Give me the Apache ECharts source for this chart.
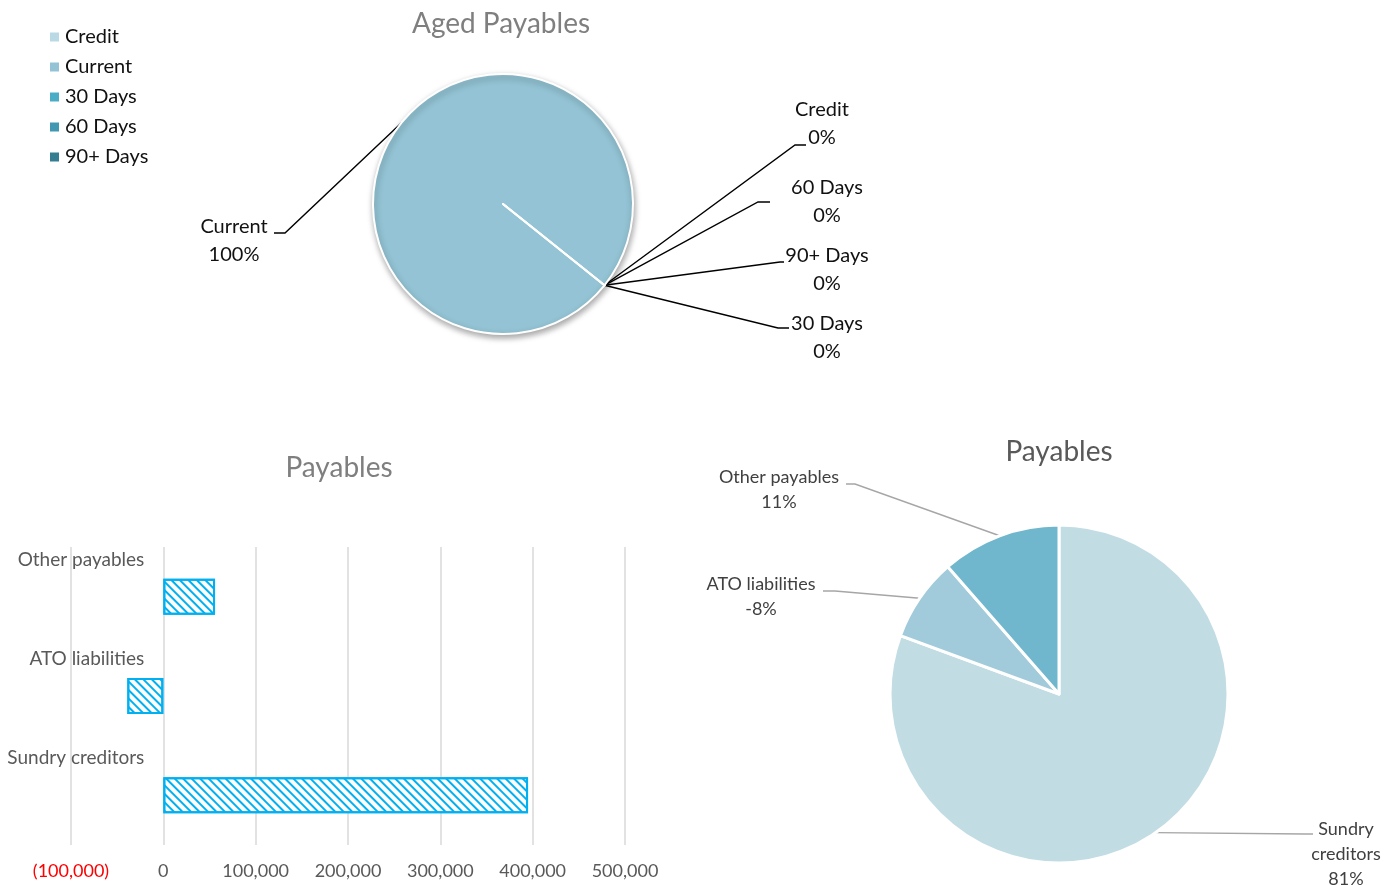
<!DOCTYPE html>
<html>
<head>
<meta charset="utf-8">
<script src="https://cdn.jsdelivr.net/npm/echarts@6/dist/echarts.min.js"></script>
<style>
html,body{margin:0;padding:0;background:#fff;}
#c{width:1400px;height:885px;}
</style>
</head>
<body>
<div id="c"></div>
<script>
// ---- data ----
var agedNames = ['Credit', 'Current', '30 Days', '60 Days', '90+ Days'];
var agedShares = [0, 100, 0, 0, 0];
var payCategories = ['Sundry creditors', 'ATO liabilities', 'Other payables'];
var payValues = [395000, -39000, 56000];
var xTicks = [-100000, 0, 100000, 200000, 300000, 400000, 500000];

// ---- styles ----
var agedColors = ['#B9D9E4', '#93C3D4', '#4BACC6', '#4198B0', '#357D91'];
var payPieColors = ['#C2DCE4', '#A1CBDA', '#70B6CC'];
var FONT = 'Lato';
var GRID_LEFT = 71;

var chart = echarts.init(document.getElementById('c'), null, {renderer: 'canvas'});

function fmtNum(v) {
  return Math.abs(v).toString().replace(/\B(?=(\d{3})+(?!\d))/g, ',');
}

var agedSum = agedShares.reduce(function (a, b) { return a + b; }, 0);
var payAbsSum = payValues.reduce(function (a, b) { return a + Math.abs(b); }, 0);

// label placements (layout, not data)
var agedLabelPos = {
  'Credit':   {x: 822, y: 124, line: [[795, 145], [806, 145]]},
  'Current':  {x: 234, y: 241, line: [[285, 233], [274, 233]]},
  '30 Days':  {x: 827, y: 338, line: [[778, 328], [789, 328]]},
  '60 Days':  {x: 827, y: 202, line: [[758, 202], [770, 202]]},
  '90+ Days': {x: 827, y: 270, line: [[780, 262], [784, 262]]}
};
var payLabelPos = {
  'Sundry creditors': {x: 1346, y: 854, line: [[1305, 834], [1313, 834]]},
  'ATO liabilities':  {x: 761, y: 597, line: [[835, 591], [823, 591]]},
  'Other payables':   {x: 779, y: 490, line: [[855, 484], [846, 484]]}
};

var titleStyle = function (c) {
  return {fontFamily: FONT, fontSize: 28, fontWeight: 'normal', color: c};
};

var option = {
  animation: false,
  textStyle: {fontFamily: FONT},
  title: [
    {text: 'Aged Payables', left: 501, top: 10, padding: 0, textAlign: 'center', textStyle: titleStyle('#7F7F7F')},
    {text: 'Payables', left: 339, top: 454, padding: 0, textAlign: 'center', textStyle: titleStyle('#7F7F7F')},
    {text: 'Payables', left: 1059, top: 438, padding: 0, textAlign: 'center', textStyle: titleStyle('#595959')}
  ],
  legend: {
    data: agedNames,
    orient: 'vertical',
    left: 43,
    top: 22,
    icon: 'rect',
    itemWidth: 11,
    itemHeight: 11,
    itemGap: 10,
    textStyle: {fontFamily: FONT, fontSize: 20, color: '#111', lineHeight: 20},
    selectedMode: false
  },
  grid: {left: GRID_LEFT, right: 775, top: 547, bottom: 40, containLabel: false, outerBoundsMode: 'none'},
  xAxis: {
    type: 'value',
    min: xTicks[0],
    max: xTicks[xTicks.length - 1],
    interval: xTicks[1] - xTicks[0],
    axisLine: {show: false},
    axisTick: {show: false},
    splitLine: {lineStyle: {color: '#D9D9D9', width: 1.5}},
    axisLabel: {
      margin: 17,
      fontFamily: FONT,
      fontSize: 18,
      color: '#595959',
      formatter: function (v) {
        return v < 0 ? '{neg|(' + fmtNum(v) + ')}' : fmtNum(v);
      },
      rich: {neg: {color: '#FF0000', fontFamily: FONT, fontSize: 18}}
    }
  },
  yAxis: {
    type: 'category',
    data: payCategories,
    offset: 0,
    axisLine: {show: false},
    axisTick: {show: false},
    axisLabel: {
      margin: 19,
      fontFamily: FONT,
      fontSize: 19,
      color: '#595959',
      verticalAlign: 'bottom',
      lineHeight: 74
    }
  },
  series: [
    {
      type: 'pie',
      name: 'Aged Payables',
      center: [503, 204],
      radius: 130,
      startAngle: 321.3,
      clockwise: true,
      avoidLabelOverlap: false,
      emphasis: {disabled: true},
      itemStyle: {borderColor: '#fff', borderWidth: 2},
      label: {
        show: true,
        position: 'outside',
        fontFamily: FONT,
        fontSize: 20,
        lineHeight: 28,
        color: '#111',
        align: 'center',
        formatter: function (p) {
          return p.name + '\n' + Math.round(p.value / agedSum * 100) + '%';
        }
      },
      labelLine: {show: true, lineStyle: {color: '#000', width: 1.4}},
      labelLayout: function (p) {
        var name = agedNames[p.dataIndex];
        var pos = agedLabelPos[name];
        var start = p.labelLinePoints ? p.labelLinePoints[0] : [604, 285];
        return {
          x: pos.x, y: pos.y, align: 'center', verticalAlign: 'middle',
          labelLinePoints: [start, pos.line[0], pos.line[1]]
        };
      },
      data: agedNames.map(function (n, i) {
        var st = {color: agedColors[i]};
        if (agedShares[i] > 0) {
          st.shadowBlur = 6;
          st.shadowColor = 'rgba(0,0,0,0.35)';
          st.shadowOffsetX = 1;
          st.shadowOffsetY = 3;
        }
        return {name: n, value: agedShares[i], itemStyle: st};
      })
    },
    {
      type: 'pie',
      name: 'Payables pie',
      center: [1059, 694],
      radius: 169,
      startAngle: 90,
      clockwise: true,
      avoidLabelOverlap: false,
      emphasis: {disabled: true},
      itemStyle: {borderColor: '#fff', borderWidth: 3},
      label: {
        show: true,
        position: 'outside',
        fontFamily: FONT,
        fontSize: 18,
        lineHeight: 25,
        color: '#404040',
        align: 'center',
        formatter: function (p) {
          var v = payValues[p.dataIndex];
          var pct = Math.round(Math.abs(v) / payAbsSum * 100) * (v < 0 ? -1 : 1);
          var nm = p.name === 'Sundry creditors' ? 'Sundry\ncreditors' : p.name;
          return nm + '\n' + pct + '%';
        }
      },
      labelLine: {show: true, lineStyle: {color: '#A6A6A6', width: 1.4}},
      labelLayout: function (p) {
        var name = payCategories[p.dataIndex];
        var pos = payLabelPos[name];
        var start = p.labelLinePoints[0];
        return {
          x: pos.x, y: pos.y, align: 'center', verticalAlign: 'middle',
          labelLinePoints: [start, pos.line[0], pos.line[1]]
        };
      },
      data: payCategories.map(function (n, i) {
        return {name: n, value: Math.abs(payValues[i]), itemStyle: {color: payPieColors[i]}};
      })
    },
    {
      type: 'bar',
      name: 'Payables bar',
      barWidth: 36,
      itemStyle: {
        color: '#ffffff',
        borderColor: '#00B0F0',
        borderWidth: 2,
        decal: {
          symbol: 'rect',
          symbolSize: 1,
          color: '#00B0F0',
          dashArrayX: [[1, 0]],
          dashArrayY: [2, 4],
          rotation: Math.PI / 4
        }
      },
      emphasis: {disabled: true},
      data: payValues
    }
  ]
};
chart.setOption(option);

// place the category axis at the value-axis zero, like the original
var zeroX = chart.convertToPixel({xAxisIndex: 0}, 0);
if (typeof zeroX === 'number' && isFinite(zeroX)) {
  chart.setOption({yAxis: {offset: -(zeroX - GRID_LEFT)}});
}
</script>
</body>
</html>
